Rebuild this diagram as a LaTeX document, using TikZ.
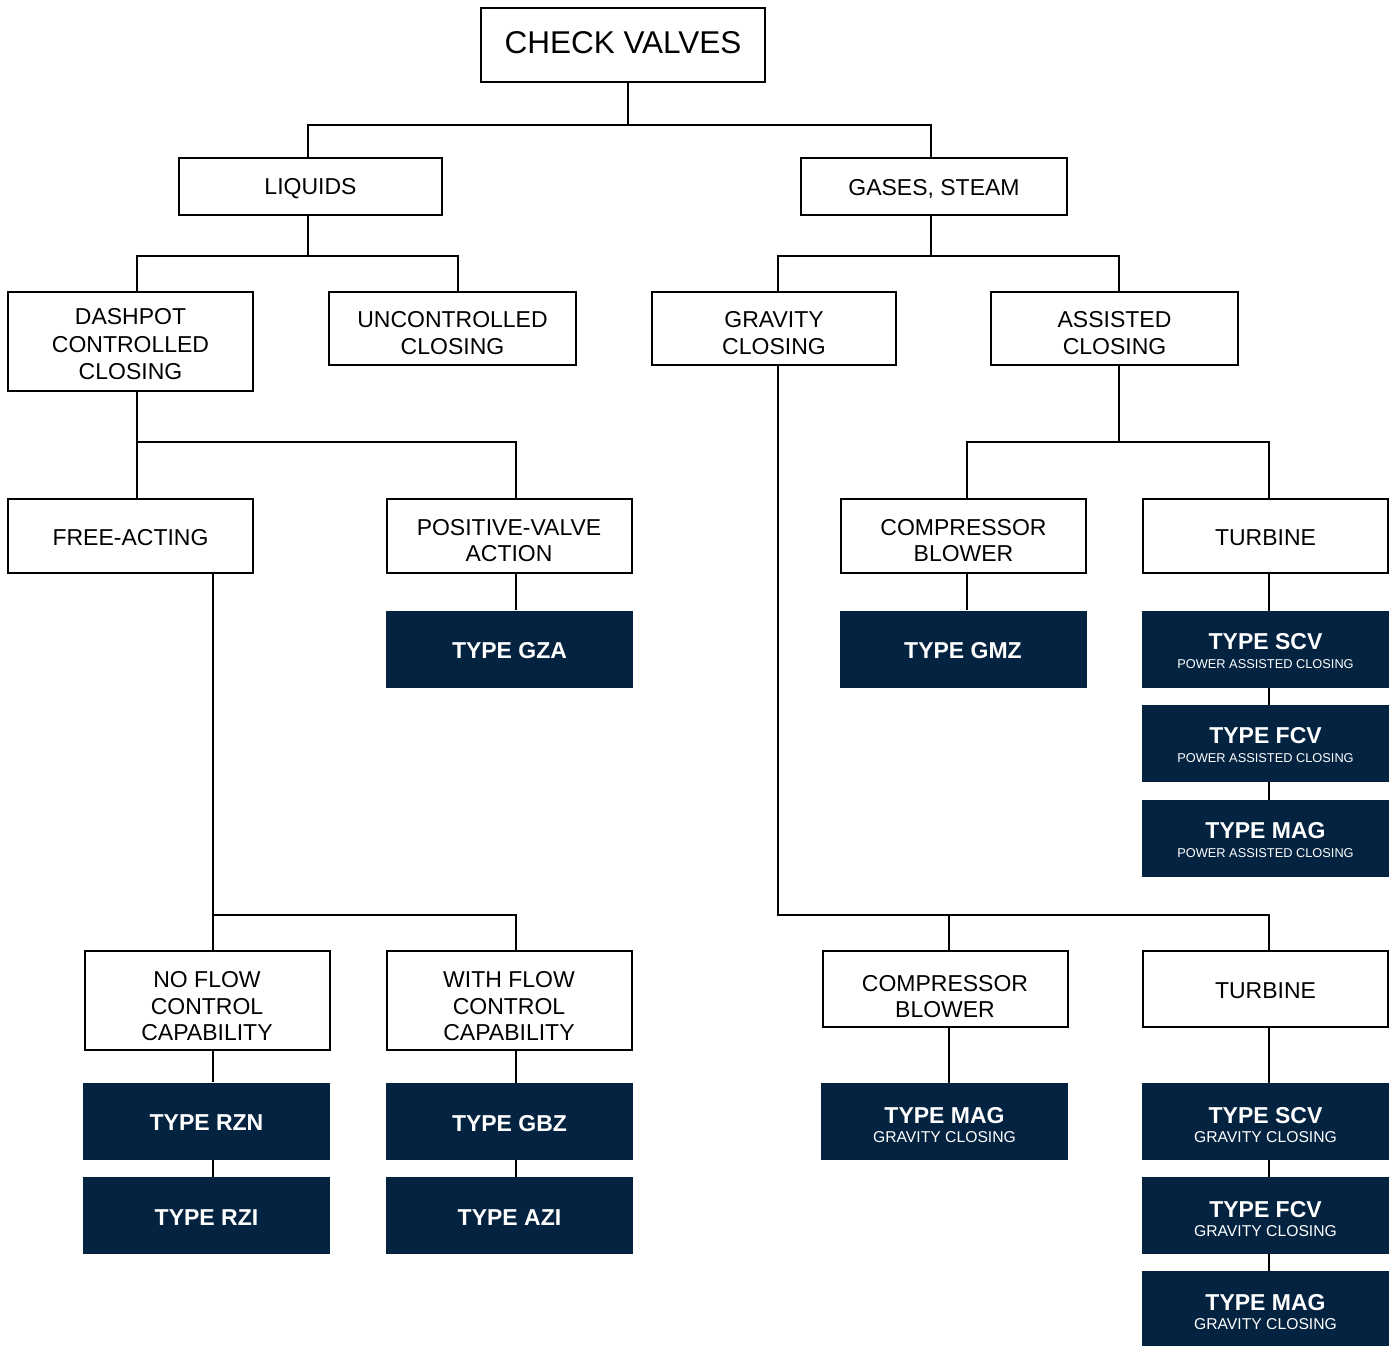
\documentclass[tikz,border=0pt]{standalone}
\usepackage{fontspec}
\setmainfont{Liberation Sans}
\definecolor{valvenavy}{RGB}{4,35,64}
\newcommand{\powersub}{\\{\mdseries\fontsize{12.8}{19}\selectfont POWER ASSISTED CLOSING}}
\newcommand{\gravsub}{\\{\mdseries\fontsize{15.7}{20}\selectfont GRAVITY CLOSING}}
\tikzset{
  cat/.style={draw, line width=2pt, align=center, inner sep=0pt, text height=20pt,
    minimum width=245pt, minimum height=74pt, font=\fontsize{23}{26.5}\selectfont},
  typ/.style={fill=valvenavy, text=white, align=center, inner sep=0pt, text height=19.5pt,
    minimum width=247pt, minimum height=77pt, font=\fontsize{23}{19}\selectfont\bfseries},
  pow/.style={typ, text height=39pt},
  grv/.style={typ, text height=43pt}
}
\begin{document}
\begin{tikzpicture}[x=1pt, y=-1pt]
      \useasboundingbox (0,0) rectangle (1395,1346);
      \node[cat, minimum width=284pt, text height=18pt, font=\fontsize{31.5}{34}\selectfont] (check) at (623,45) {CHECK VALVES};
      \node[cat, minimum width=263pt, minimum height=57pt] (liq) at (310.5,186.5) {LIQUIDS};
      \node[cat, minimum width=266pt, minimum height=57pt] (gas) at (934,186.5) {GASES, STEAM};
      \node[cat, minimum height=99pt, text height=77pt, font=\fontsize{23}{27.5}\selectfont] (dash) at (130.5,341.5) {DASHPOT\\CONTROLLED\\CLOSING};
      \node[cat, minimum width=247pt, minimum height=73pt, text height=51.5pt] (unc) at (452.5,328.5) {UNCONTROLLED\\CLOSING};
      \node[cat, minimum width=244pt, minimum height=73pt, text height=51.5pt] (grav) at (774,328.5) {GRAVITY\\CLOSING};
      \node[cat, minimum width=247pt, minimum height=73pt, text height=51.5pt] (assist) at (1114.5,328.5) {ASSISTED\\CLOSING};
      \node[cat] (free) at (130.5,536) {FREE-ACTING};
      \node[cat, text height=51.5pt] (pos) at (509,536) {POSITIVE-VALVE\\ACTION};
      \node[cat, text height=51.5pt] (comp1) at (963.5,536) {COMPRESSOR\\BLOWER};
      \node[cat] (turb1) at (1265.5,536) {TURBINE};
      \node[typ] (gza) at (509.5,649) {TYPE GZA};
      \node[typ] (gmz) at (963,649) {TYPE GMZ};
      \node[pow] (scv1) at (1265.5,649.5) {TYPE SCV\powersub};
      \node[pow] (fcv1) at (1265.5,743.5) {TYPE FCV\powersub};
      \node[pow] (mag1) at (1265.5,838.5) {TYPE MAG\powersub};
      \node[cat, minimum height=99pt, text height=81pt] (noflow) at (207,1000.5) {NO FLOW\\CONTROL\\CAPABILITY};
      \node[cat, minimum height=99pt, text height=81pt] (withflow) at (509,1000.5) {WITH FLOW\\CONTROL\\CAPABILITY};
      \node[cat, minimum height=76pt, text height=58pt] (comp2) at (945,989) {COMPRESSOR\\BLOWER};
      \node[cat, minimum height=76pt] (turb2) at (1265.5,989) {TURBINE};
      \node[typ] (rzn) at (206.5,1121) {TYPE RZN};
      \node[typ] (rzi) at (206.5,1215.5) {TYPE RZI};
      \node[typ] (gbz) at (509.5,1121.5) {TYPE GBZ};
      \node[typ] (azi) at (509.5,1215.5) {TYPE AZI};
      \node[grv] (mag2) at (944.5,1121.5) {TYPE MAG\gravsub};
      \node[grv] (scv2) at (1265.5,1121.5) {TYPE SCV\gravsub};
      \node[grv] (fcv2) at (1265.5,1215.5) {TYPE FCV\gravsub};
      \node[grv, minimum height=75pt] (mag3) at (1265.5,1308.5) {TYPE MAG\gravsub};
      \begin{scope}[line width=2pt]
        \coordinate (b0) at (628,125);
        \coordinate (b1) at (308,256);
        \coordinate (b2) at (931,256);
        \coordinate (b3) at (137,442);
        \coordinate (b4) at (1119,442);
        \coordinate (b5) at (213,915);
        \coordinate (b6) at (778,915);
        \draw ([xshift=5pt]check.south) -- (b0);
        \draw ([xshift=-2.5pt]liq.north) |- (b0) -| ([xshift=-3pt]gas.north);
        \draw ([xshift=-2.5pt]liq.south) -- (b1);
        \draw ([xshift=6.5pt]dash.north) |- (b1) -| ([xshift=5.5pt]unc.north);
        \draw ([xshift=-3pt]gas.south) -- (b2);
        \draw ([xshift=4pt]grav.north) |- (b2) -| ([xshift=4.5pt]assist.north);
        \draw ([xshift=6.5pt]dash.south) -- ([xshift=6.5pt]free.north);
        \draw (b3) -| ([xshift=7pt]pos.north);
        \draw ([xshift=4.5pt]assist.south) -- (b4);
        \draw ([xshift=3.5pt]comp1.north) |- (b4) -| ([xshift=3.5pt]turb1.north);
        \draw ([xshift=82.5pt]free.south) -- ([xshift=6pt]noflow.north);
        \draw (b5) -| ([xshift=7pt]withflow.north);
        \draw ([xshift=4pt]grav.south) -- (b6) -| ([xshift=3.5pt]turb2.north);
        \draw ([xshift=4pt]comp2.north) -- ([xshift=4pt]comp2.north |- b6);
        \foreach \a/\b/\s in {pos/gza/7, comp1/gmz/3.5, turb1/scv1/3.5, scv1/fcv1/3.5,
            fcv1/mag1/3.5, noflow/rzn/6, rzn/rzi/6.5, withflow/gbz/7, gbz/azi/6.5,
            comp2/mag2/4, turb2/scv2/3.5, scv2/fcv2/3.5, fcv2/mag3/3.5}
          \draw ([xshift=\s pt]\a.south) -- ([xshift=\s pt]\a.south |- \b.north);
      \end{scope}
    \end{tikzpicture}
\end{document}
